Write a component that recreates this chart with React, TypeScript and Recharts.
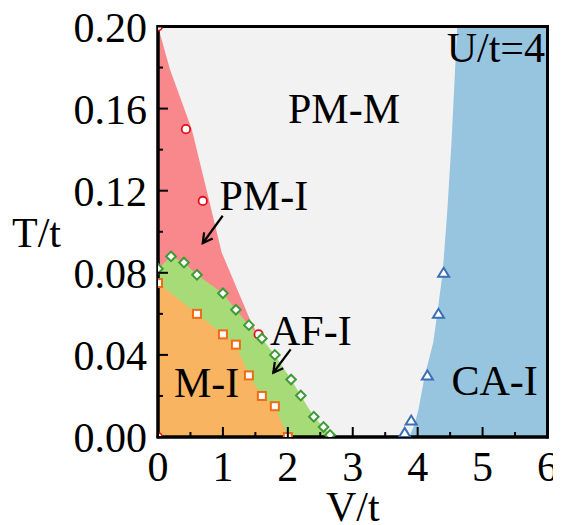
import React from "react";
import {
  ComposedChart,
  Area,
  Scatter,
  XAxis,
  YAxis,
  CartesianGrid,
  ReferenceLine,
  ReferenceDot,
} from "recharts";

const FONT = '"Liberation Serif", "Times New Roman", serif';

// phase boundaries (fill edges)
const pmiEdgeV = [0, 0.185, 0.52, 0.79, 0.98, 1.42, 1.6, 1.62];
const pmiEdgeT = [0.2, 0.179, 0.15, 0.115, 0.09, 0.057, 0.046, 0];

const caEdgeV = [3.87, 3.95, 4.01, 4.11, 4.24, 4.31, 4.385, 4.456, 4.52, 4.57, 4.61, 6];
const caEdgeT = [0, 0.006, 0.013, 0.03, 0.046, 0.062, 0.08, 0.11, 0.143, 0.175, 0.2, 0.2];

// measured points
const afV = [0, 0.2, 0.4, 0.6, 1.0, 1.2, 1.4, 1.6, 1.8, 2.05, 2.2, 2.4, 2.55, 2.65];
const afT = [0.082, 0.088, 0.085, 0.079, 0.07, 0.062, 0.0545, 0.048, 0.04, 0.028, 0.0202, 0.0099, 0.0049, 0.001];

const miV = [0, 0.6, 1.0, 1.2, 1.4, 1.6, 1.8, 2.0];
const miT = [0.075, 0.06, 0.05, 0.045, 0.03, 0.02, 0.015, 0];

const pmiV = [0, 0.43, 0.69, 1.55, 0];
const pmiT = [0.2, 0.15, 0.115, 0.05, 0];

const caV = [3.8, 3.9, 4.15, 4.32, 4.4];
const caT = [0.002, 0.008, 0.03, 0.06, 0.08];

const xTicks = [0, 0.5, 1, 1.5, 2, 2.5, 3, 3.5, 4, 4.5, 5, 5.5, 6];
const yTicks = [0, 0.02, 0.04, 0.06, 0.08, 0.1, 0.12, 0.14, 0.16, 0.18, 0.2];

const labels = [
  { text: "PM-M", V: 2.865, T: 0.1603 },
  { text: "PM-I", V: 1.63, T: 0.1179 },
  { text: "AF-I", V: 2.354, T: 0.0521 },
  { text: "M-I", V: 0.75, T: 0.0269 },
  { text: "CA-I", V: 5.186, T: 0.0278 },
  { text: "U/t=4", V: 5.204, T: 0.19 },
];

const arrows = [
  { from: { x: 0.997, y: 0.1078 }, to: { x: 0.689, y: 0.0944 } },
  { from: { x: 2.044, y: 0.0427 }, to: { x: 1.776, y: 0.0313 } },
];

const zip = (v: number[], t: number[]) => v.map((V, i) => ({ V, T: t[i] }));

function XTick({ x, y, payload }: any) {
  const v = payload.value;
  const major = Number.isInteger(v);
  return (
    <g>
      <line x1={x} y1={y} x2={x} y2={y - (major ? 10 : 5)} stroke="#000" strokeWidth={2} />
      {major && (
        <text x={x} y={y + 44} textAnchor="middle" fontSize={42} fontFamily={FONT} fill="#000">
          {v}
        </text>
      )}
    </g>
  );
}

function YTick({ x, y, payload }: any) {
  const v = payload.value;
  const major = Math.round(v * 100) % 4 === 0;
  return (
    <g>
      <line x1={x} y1={y} x2={x + (major ? 10 : 5)} y2={y} stroke="#000" strokeWidth={2} />
      {major && (
        <text x={x - 11} y={y + 15} textAnchor="end" fontSize={42} fontFamily={FONT} fill="#000">
          {v.toFixed(2)}
        </text>
      )}
    </g>
  );
}

function Arrow(p: any) {
  const { x1, y1, x2, y2 } = p;
  const a = Math.atan2(y2 - y1, x2 - x1);
  const h = 11;
  const w = 0.5;
  const ax = x2 - h * Math.cos(a - w);
  const ay = y2 - h * Math.sin(a - w);
  const bx = x2 - h * Math.cos(a + w);
  const by = y2 - h * Math.sin(a + w);
  return (
    <g>
      <line x1={x1} y1={y1} x2={x2} y2={y2} stroke="#000" strokeWidth={2.2} />
      <polyline
        points={`${ax},${ay} ${x2},${y2} ${bx},${by}`}
        fill="none"
        stroke="#000"
        strokeWidth={2.2}
      />
    </g>
  );
}

const circle = ({ cx, cy }: any) => (
  <circle cx={cx} cy={cy} r={4.2} fill="#fff" stroke="#e0101f" strokeWidth={1.8} />
);
const square = ({ cx, cy }: any) => (
  <rect x={cx - 4} y={cy - 4} width={8} height={8} fill="#fff" stroke="#f26a12" strokeWidth={2} />
);
const diamond = ({ cx, cy }: any) => (
  <path
    d={`M${cx},${cy - 4.8}L${cx + 4.8},${cy}L${cx},${cy + 4.8}L${cx - 4.8},${cy}Z`}
    fill="#fff"
    stroke="#3d9b35"
    strokeWidth={2}
  />
);
const triangle = ({ cx, cy }: any) => (
  <path
    d={`M${cx},${cy - 5}L${cx + 5.5},${cy + 4}L${cx - 5.5},${cy + 4}Z`}
    fill="#fff"
    stroke="#3a6fb5"
    strokeWidth={2}
  />
);

export default function App() {
  return (
    <ComposedChart width={553} height={517} margin={{ top: 18.5, right: 13.5, left: 0, bottom: 0 }}>
      <CartesianGrid fill="#f2f2f2" horizontal={false} vertical={false} />
      <Area data={zip(pmiEdgeV, pmiEdgeT)} dataKey="T" type="linear" fill="#f8888b" fillOpacity={1} stroke="none" isAnimationActive={false} />
      <Area data={zip(afV, afT)} dataKey="T" type="linear" fill="#a7db78" fillOpacity={1} stroke="none" isAnimationActive={false} />
      <Area data={zip(miV, miT)} dataKey="T" type="linear" fill="#f9b462" fillOpacity={1} stroke="none" isAnimationActive={false} />
      <Area data={zip(caEdgeV, caEdgeT)} dataKey="T" type="linear" fill="#97c4de" fillOpacity={1} stroke="none" isAnimationActive={false} />
      <XAxis
        dataKey="V"
        type="number"
        domain={[0, 6]}
        ticks={xTicks}
        interval={0}
        allowDataOverflow
        height={88}
        tickSize={0}
        tickMargin={0}
        tickLine={false}
        tick={<XTick />}
        axisLine={{ stroke: "#000", strokeWidth: 3 }}
        label={{ value: "V/t", position: "insideBottom", offset: 4, fontSize: 42, fontFamily: FONT, fill: "#000" }}
      />
      <YAxis
        dataKey="T"
        type="number"
        domain={[0, 0.2]}
        ticks={yTicks}
        interval={0}
        allowDataOverflow
        width={150}
        tickSize={0}
        tickMargin={0}
        tickLine={false}
        tick={<YTick />}
        axisLine={{ stroke: "#000", strokeWidth: 3 }}
        label={{ value: "T/t", position: "insideLeft", offset: 4, fontSize: 42, fontFamily: FONT, fill: "#000" }}
      />
      <ReferenceLine y={0.2} stroke="#000" strokeWidth={3} strokeLinecap="square" />
      <ReferenceLine x={6} stroke="#000" strokeWidth={3} strokeLinecap="square" />
      <ReferenceLine x={0} stroke="#000" strokeWidth={3} strokeLinecap="square" />
      <ReferenceLine y={0} stroke="#000" strokeWidth={3} strokeLinecap="square" />
      {arrows.map((a, i) => (
        <ReferenceLine key={i} segment={[a.from, a.to]} shape={Arrow} ifOverflow="visible" />
      ))}
      {labels.map((l) => (
        <ReferenceDot
          key={l.text}
          x={l.V}
          y={l.T}
          r={0}
          stroke="none"
          ifOverflow="visible"
          label={{ value: l.text, position: "center", fontSize: 42, fontFamily: FONT, fill: "#000" }}
        />
      ))}
      <Scatter data={zip(pmiV, pmiT)} shape={circle} isAnimationActive={false} />
      <Scatter data={zip(miV, miT)} shape={square} isAnimationActive={false} />
      <Scatter data={zip(afV, afT)} shape={diamond} isAnimationActive={false} />
      <Scatter data={zip(caV, caT)} shape={triangle} isAnimationActive={false} />
    </ComposedChart>
  );
}
